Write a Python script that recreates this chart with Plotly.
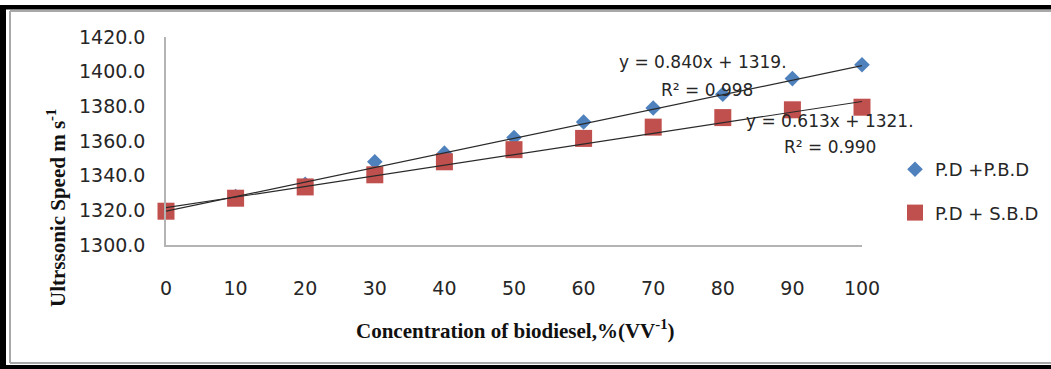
import plotly.graph_objects as go

W, H = 1051, 369

# ---- data ----
concentration = [0, 10, 20, 30, 40, 50, 60, 70, 80, 90, 100]
pd_pbd = [1320, 1328, 1335, 1348, 1353, 1362, 1371, 1379, 1387, 1396, 1404]
pd_sbd = [1319.5, 1327, 1333.5, 1340.5, 1348, 1355, 1361.5, 1368, 1373.5, 1378, 1379.5]
series_names = ["P.D +P.B.D", "P.D + S.B.D"]
trend_slope = [0.840, 0.613]
trend_intercept = [1319.5, 1321.5]
trend_eq = ["y = 0.840x + 1319.", "y = 0.613x + 1321."]
trend_r2 = ["R² = 0.998", "R² = 0.990"]
y_ticks = [1300, 1320, 1340, 1360, 1380, 1400, 1420]
x_ticks = [0, 10, 20, 30, 40, 50, 60, 70, 80, 90, 100]

BLUE = "#4F81BD"
RED = "#C0504D"
TXT = "#262626"
TICKFONT = dict(family="DejaVu Sans", size=19, color=TXT)
LABFONT = dict(family="DejaVu Sans", size=17, color=TXT)
LEGFONT = dict(family="DejaVu Sans", size=18, color=TXT)


def px(x):
    return x / W


def py(y):
    return 1 - y / H


fig = go.Figure()

fig.add_trace(go.Scatter(x=concentration, y=pd_pbd, mode="markers", name=series_names[0],
                         cliponaxis=False,
                         marker=dict(symbol="diamond", size=12, color=BLUE), legendgroup="a"))
fig.add_trace(go.Scatter(x=concentration, y=pd_sbd, mode="markers", name=series_names[1],
                         cliponaxis=False,
                         marker=dict(symbol="square", size=17, color=RED), legendgroup="b"))

# linear trend lines (drawn over the markers, as in the reference)
for k in range(2):
    xs = [concentration[0], concentration[-1]]
    ys = [trend_intercept[k] + trend_slope[k] * v for v in xs]
    fig.add_trace(go.Scatter(x=xs, y=ys, mode="lines", showlegend=False, cliponaxis=False,
                             line=dict(color="#2a2a2a", width=1.2), hoverinfo="skip"))

annotations = [
    dict(text=trend_eq[0], x=px(703), y=py(62)),
    dict(text=trend_r2[0], x=px(707), y=py(90)),
    dict(text=trend_eq[1], x=px(830), y=py(121)),
    dict(text=trend_r2[1], x=px(830), y=py(147)),
]
annotations = [dict(a, xref="paper", yref="paper", showarrow=False, xanchor="center",
                    yanchor="middle", font=LABFONT)
               for a in annotations]
annotations.append(dict(text="<b>Concentration of biodiesel,%(VV<sup>-1</sup>)</b>", x=px(515), y=py(329),
                        xref="paper", yref="paper", showarrow=False, xanchor="center", yanchor="middle",
                        font=dict(family="Liberation Serif", size=21, color="#111")))
annotations.append(dict(text="<b>Ultrssonic Speed m s<sup>-1</sup></b>", x=px(57), y=py(208),
                        xref="paper", yref="paper", showarrow=False, textangle=-90,
                        xanchor="center", yanchor="middle",
                        font=dict(family="Liberation Serif", size=21, color="#111")))

shapes = [
    # thick black frame
    dict(type="rect", x0=px(0), x1=px(6), y0=py(5), y1=py(369), fillcolor="black", line_width=0),
    dict(type="rect", x0=px(0), x1=px(1051), y0=py(5), y1=py(9.5), fillcolor="black", line_width=0),
    dict(type="rect", x0=px(0), x1=px(1051), y0=py(365), y1=py(369), fillcolor="black", line_width=0),
    # thin gray inner frame
    dict(type="line", x0=px(10), x1=px(1051), y0=py(11), y1=py(11), line=dict(color="#a8a8a8", width=2)),
    dict(type="line", x0=px(10), x1=px(10), y0=py(11), y1=py(363), line=dict(color="#a8a8a8", width=2)),
    dict(type="line", x0=px(10), x1=px(1051), y0=py(363), y1=py(363), line=dict(color="#a8a8a8", width=2)),
]
shapes = [dict(s, xref="paper", yref="paper", layer="above") for s in shapes]

fig.update_layout(
    width=W, height=H,
    margin=dict(l=0, r=0, t=0, b=0, autoexpand=False),
    paper_bgcolor="white", plot_bgcolor="white",
    xaxis=dict(domain=[px(166), px(862)], range=[0, 100], tickvals=x_ticks,
               ticktext=[str(v) for v in x_ticks], showgrid=False, zeroline=False,
               showline=True, linecolor="#b4b4b4", linewidth=1.5, ticks="",
               tickfont=TICKFONT, ticklabelstandoff=25),
    yaxis=dict(domain=[py(245), py(37)], range=[1300, 1420], tickvals=y_ticks,
               ticktext=[f"{v:.1f}" for v in y_ticks], showgrid=False, zeroline=False,
               showline=True, linecolor="#b4b4b4", linewidth=1.5, ticks="",
               tickfont=TICKFONT, ticklabelstandoff=15),
    legend=dict(x=px(895), y=py(151), xanchor="left", yanchor="top", font=LEGFONT,
                tracegroupgap=17, bgcolor="rgba(0,0,0,0)", itemsizing="trace"),
    annotations=annotations,
    shapes=shapes,
    showlegend=True,
)

fig.write_html("out.html")
